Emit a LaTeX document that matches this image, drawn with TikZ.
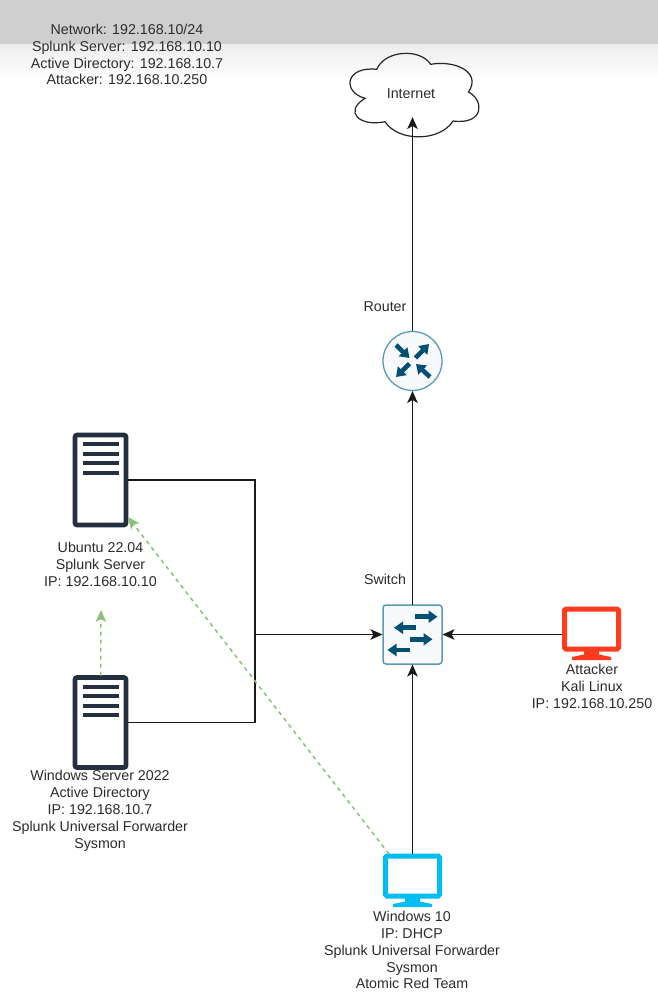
\documentclass[tikz,border=0pt]{standalone}
\usepackage{fontspec}
\setmainfont{Liberation Sans}
\usetikzlibrary{arrows.meta}
\definecolor{txt}{HTML}{2C2C2C}
\definecolor{srvc}{HTML}{232F3E}
\definecolor{netc}{HTML}{005073}
\definecolor{netb}{HTML}{5A9AB5}
\definecolor{netf}{HTML}{F8F9FA}
\definecolor{atk}{HTML}{FF3B1F}
\definecolor{win}{HTML}{00BEF2}
\definecolor{grn}{HTML}{8CC07A}
\definecolor{band}{HTML}{CFCFCF}
\tikzset{
  lbl/.style={text=txt,font=\fontsize{14.25}{16.9}\selectfont,align=center,inner sep=0pt},
  holder/.style={inner sep=0pt,outer sep=0pt,minimum width=#1},
  link/.style={draw=black!90,line width=1.3pt,-{Stealth[length=12pt,width=10.5pt,inset=3pt]}},
  plain/.style={draw=black!90,line width=1.3pt},
  sync/.style={draw=grn,line width=1.5pt,dash pattern=on 4pt off 4pt,-{Stealth[length=12pt,width=10.5pt,inset=3pt]}},
  glyph/.style={draw=netc,line width=4.6pt,-{Triangle[length=9pt,width=12pt]}},
}
\newcommand{\srvicon}[2]{%
  \draw[srvc,line width=4.6pt,rounded corners=2pt,fill=white] (#1-25.5,#2-45) rectangle (#1+25.5,#2+45);
  \foreach \dy in {-36,-26.5,-17,-7.5}{\draw[srvc,line width=4pt] (#1-18,#2+\dy) -- (#1+18,#2+\dy);}
}
\newcommand{\monicon}[3]{%
  \fill[#3] (#1-7.5,#2+16) -- (#1+7.5,#2+16) -- (#1+7.5,#2+21.5) -- (#1+19.5,#2+24) -- (#1+19.5,#2+27) -- (#1-19.5,#2+27) -- (#1-19.5,#2+24) -- (#1-7.5,#2+21.5) -- cycle;
  \draw[#3,line width=5pt,rounded corners=1.5pt,fill=white] (#1-27,#2-24) rectangle (#1+27,#2+16);
}
\begin{document}
\begin{tikzpicture}[x=1pt,y=-1pt]
\useasboundingbox (0,0) rectangle (658,996);
\fill[white] (0,0) rectangle (658,996);
\shade[top color=black!7,bottom color=white] (0,44) rectangle (658,80);
\fill[band] (0,0) rectangle (658,44);

% cloud
\draw[black!85,line width=1.2pt]
  (376.7,69.3)
  .. controls (385,50) and (420,48) .. (430.7,64.3)
  .. controls (455,60) and (482,72) .. (468.5,92)
  .. controls (484,100) and (485,125) .. (453,121)
  .. controls (440,142) and (398,142) .. (385,121.7)
  .. controls (360,127) and (343,112) .. (365,98.3)
  .. controls (342,92) and (345,66) .. (376.7,69.3) -- cycle;

% icons
\srvicon{100.5}{480}
\srvicon{100.5}{722.5}
\draw[netb,line width=1.3pt,fill=netf] (412.5,361) circle (29.5);
\foreach \a/\b/\c/\d in {396/345/409.5/358, 415.5/358/429/344, 409.5/363.5/396/377, 430/377/416/364}{
  \draw[glyph] (\a,\b) -- (\c,\d);
}
\draw[netb,line width=1.5pt,fill=netf,rounded corners=3pt] (383,605) rectangle (442,664);
\foreach \a/\b/\c in {415/616.7/437.5, 416/627.7/394, 410/639.3/432.5, 410/650/387.5}{
  \draw[glyph] (\a,\b) -- (\c,\b);
}
\monicon{591.5}{633}{atk}
\monicon{412.5}{880}{win}

% invisible holders carrying the names
\node[holder=55pt,minimum height=94pt] (ubuntu) at (100.5,480) {};
\node[holder=55pt,minimum height=94pt] (winsrv) at (100.5,722.5) {};
\node[holder=60pt,minimum height=60pt,circle] (router) at (412.5,361) {};
\node[holder=60pt,minimum height=60pt] (switch) at (412.5,634.5) {};
\node[holder=60pt,minimum height=53pt] (attacker) at (591.5,634.5) {};
\node[holder=60pt,minimum height=53pt] (winten) at (412.5,880.5) {};
\coordinate (inetport) at (412.5,117);
\coordinate (bus) at (255,634.5);
\coordinate (ubport) at (128,517);
\coordinate (ubbelow) at (101,610);
\coordinate (wingreen) at (389,854);

% connectors
\draw[link] (router.north) -- (inetport);
\draw[link] (switch.north) -- (router.south);
\draw[plain] (ubuntu.east) -| (bus);
\draw[plain] (winsrv.east) -| (bus);
\draw[link] (bus) -- (switch.west);
\draw[link] (winten.north) -- (switch.south);
\draw[link] (attacker.west) -- (switch.east);
\draw[sync] (winsrv.north) -- (ubbelow);
\draw[sync] (wingreen) -- (ubport);

% labels
\node[lbl] (netinfo) at (127,54.5) {Network: 192.168.10/24\\Splunk Server: 192.168.10.10\\Active Directory: 192.168.10.7\\Attacker: 192.168.10.250};
\node[lbl] (inetlbl) at (411,94) {Internet};
\node[lbl] (routerlbl) at (385,307) {Router};
\node[lbl] (switchlbl) at (385,579) {Switch};
\node[lbl] (ubuntulbl) at (100.5,564) {Ubuntu 22.04\\Splunk Server\\IP: 192.168.10.10};
\node[lbl] (winsrvlbl) at (100,811) {Windows Server 2022\\Active Directory\\IP: 192.168.10.7\\Splunk Universal Forwarder\\Sysmon};
\node[lbl] (attackerlbl) at (592,686.5) {Attacker\\Kali Linux\\IP: 192.168.10.250};
\node[lbl] (wintenlbl) at (412,950) {Windows 10\\IP: DHCP\\Splunk Universal Forwarder\\Sysmon\\Atomic Red Team};
\end{tikzpicture}
\end{document}
